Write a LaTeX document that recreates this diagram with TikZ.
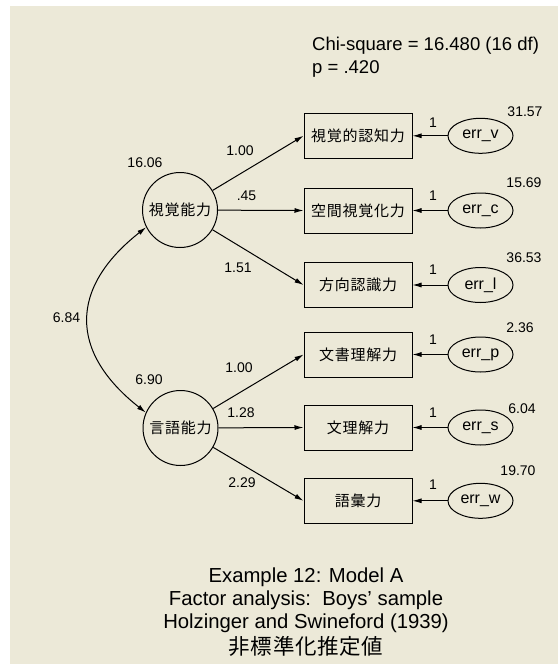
\documentclass[tikz,border=0pt]{standalone}
\usepackage{fontspec}
\setmainfont{Liberation Sans}
\newfontfamily\jpfont[LetterSpace=5]{Noto Sans CJK JP}
\newfontfamily\jpcapfont[LetterSpace=3]{Noto Sans CJK JP}
\usetikzlibrary{arrows.meta,shapes.geometric}
\definecolor{bgxp}{HTML}{ECE9D8}
\begin{document}
\begin{tikzpicture}[x=1pt,y=-1pt,
  obsbox/.style={draw, line width=1pt, minimum width=108pt, minimum height=45pt, inner sep=0pt, font=\jpfont\fontsize{15}{17}\selectfont},
  latcirc/.style={draw, line width=1pt, circle, minimum size=75pt, inner sep=0pt, font=\jpfont\fontsize{15}{17}\selectfont},
  errell/.style={draw, line width=1pt, ellipse, minimum width=65pt, minimum height=35pt, inner sep=0pt, font=\fontsize{16}{18}\selectfont},
  lbl/.style={inner sep=0pt, font=\fontsize{14}{16}\selectfont},
  captext/.style={inner sep=0pt, anchor=base, font=\fontsize{20.3}{24}\selectfont},
  arr/.style={-{Latex[length=9pt,width=5pt]}, line width=1pt},
  darr/.style={{Latex[length=9pt,width=5pt]}-{Latex[length=9pt,width=5pt]}, line width=1pt}
]
\fill[white] (0,0) rectangle (558,664);
\fill[bgxp] (10,6) rectangle (558,664);
\useasboundingbox (0,0) rectangle (558,664);

% fit statistics
\node[inner sep=0pt, anchor=base west, font=\fontsize{18.5}{22}\selectfont] (chi) at (312,50) {Chi-square = 16.480 (16 df)};
\node[inner sep=0pt, anchor=base west, font=\fontsize{18.5}{22}\selectfont] (pval) at (312,73) {p = .420};

% latent factors
\node[latcirc] (f1) at (180,210) {視覚能力};
\node[latcirc] (f2) at (180.5,428) {言語能力};

% observed variables
\node[obsbox] (b1) at (358,135.8) {視覚的認知力};
\node[obsbox] (b2) at (358,210.5) {空間視覚化力};
\node[obsbox] (b3) at (358,285) {方向認識力};
\node[obsbox] (b4) at (358,354.5) {文書理解力};
\node[obsbox] (b5) at (358,427.5) {文理解力};
\node[obsbox] (b6) at (358,500.8) {語彙力};

% error terms
\node[errell] (e1) at (480.5,135.8) {err\_v};
\node[errell] (e2) at (480.5,210.5) {err\_c};
\node[errell] (e3) at (480.5,285) {err\_l};
\node[errell] (e4) at (480.5,354.5) {err\_p};
\node[errell] (e5) at (480.5,427.5) {err\_s};
\node[errell] (e6) at (480.5,500.8) {err\_w};

% loadings
\draw[arr] (f1) -- (b1.west);
\draw[arr] (f1) -- (b2.west);
\draw[arr] (f1) -- (b3.west);
\draw[arr] (f2) -- (b4.west);
\draw[arr] (f2) -- (b5.west);
\draw[arr] (f2) -- (b6.west);

% error paths
\draw[arr] (e1.west) -- (b1.east);
\draw[arr] (e2.west) -- (b2.east);
\draw[arr] (e3.west) -- (b3.east);
\draw[arr] (e4.west) -- (b4.east);
\draw[arr] (e5.west) -- (b5.east);
\draw[arr] (e6.west) -- (b6.east);

% covariance
\draw[darr] (f1.207) .. controls (69,288) and (69,352) .. (f2.156);

% variances and estimates
\node[lbl] (v1) at (145,163) {16.06};
\node[lbl] (v2) at (149,380) {6.90};
\node[lbl] (cv) at (66.5,318) {6.84};
\node[lbl] (l1) at (240,151) {1.00};
\node[lbl] (l2) at (246.5,196) {.45};
\node[lbl] (l3) at (238,268) {1.51};
\node[lbl] (l4) at (239,368) {1.00};
\node[lbl] (l5) at (241,413) {1.28};
\node[lbl] (l6) at (242,483) {2.29};

\node[lbl] (o1) at (433,123) {1};
\node[lbl] (o2) at (433,196) {1};
\node[lbl] (o3) at (433,270) {1};
\node[lbl] (o4) at (433,340) {1};
\node[lbl] (o5) at (433,413) {1};
\node[lbl] (o6) at (433,485) {1};

\node[lbl] (ev1) at (525,112) {31.57};
\node[lbl] (ev2) at (524,183) {15.69};
\node[lbl] (ev3) at (524,258) {36.53};
\node[lbl] (ev4) at (520,328) {2.36};
\node[lbl] (ev5) at (522,408.5) {6.04};
\node[lbl] (ev6) at (518,471) {19.70};

% caption
\node[captext] (c1) at (306,582) {Example 12: Model A};
\node[captext] (c2) at (306,605) {Factor analysis:\ \ Boys’ sample};
\node[captext] (c3) at (306,628) {Holzinger and Swineford (1939)};
\node[captext, font=\jpcapfont\fontsize{21.5}{24}\selectfont] (c4) at (306,654) {非標準化推定値};
\end{tikzpicture}
\end{document}
